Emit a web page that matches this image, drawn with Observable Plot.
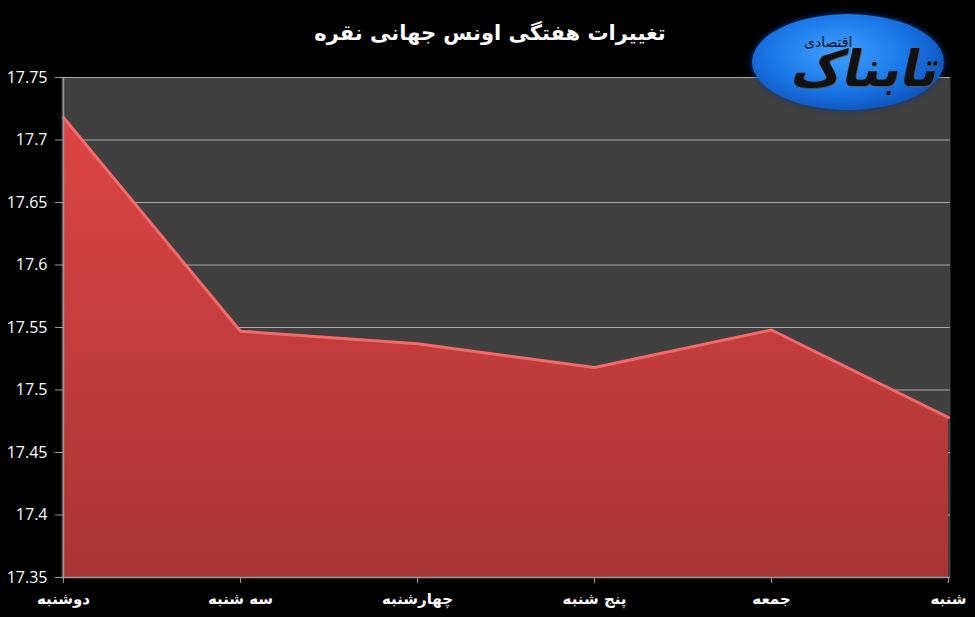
<!DOCTYPE html>
<html>
<head>
<meta charset="utf-8">
<script src="https://cdn.jsdelivr.net/npm/d3@7"></script>
<script src="https://cdn.jsdelivr.net/npm/@observablehq/plot@0.6"></script>
<style>
  html, body { margin: 0; padding: 0; background: #000; }
  #wrap { position: relative; width: 975px; height: 617px; overflow: hidden; background: #000; }
  #title { height: 50px; text-align: center; color: #fff; font: bold 21px "DejaVu Sans", sans-serif; line-height: 66px; padding-left: 5px; direction: rtl; }
  #logo { position: absolute; left: 752px; top: 14px; width: 192px; height: 96px; }
  #logo .ell { position: absolute; inset: 0; border-radius: 50%;
    background: radial-gradient(ellipse at 45% 40%, #3fa0ff 0%, #1b78e8 45%, #0b4fb8 80%, #06307a 100%);
    box-shadow: 0 0 6px #0a3a8a; }
  #logo .big { position: absolute; right: 4px; top: 26px; font: bold 50px "DejaVu Sans", serif; color: #111; direction: rtl; transform: skewX(-12deg); text-shadow: 1px 1px 0 #555; letter-spacing: -2px; }
  #logo .small { position: absolute; left: 52px; top: 20px; font: 14px "DejaVu Sans", serif; color: #111; direction: rtl; }
</style>
</head>
<body>
<div id="wrap">
  <div id="title">تغییرات هفتگی اونس جهانی نقره</div>
  <div id="chart"></div>
  <div id="logo"><div class="ell"></div><div class="big">تابناک</div><div class="small">اقتصادی</div></div>
</div>
<script>
const days = ["دوشنبه", "سه شنبه", "چهارشنبه", "پنج شنبه", "جمعه", "شنبه"];
const prices = [17.718, 17.547, 17.537, 17.518, 17.548, 17.478];
const yTicks = [17.35, 17.4, 17.45, 17.5, 17.55, 17.6, 17.65, 17.7, 17.75];

const data = days.map((d, i) => ({day: d, value: prices[i]}));

const defs = () => {
  const g = d3.create("svg:defs");
  const lg = g.append("linearGradient").attr("id", "redGrad").attr("x1", 0).attr("y1", 0).attr("x2", 0).attr("y2", 1);
  lg.append("stop").attr("offset", "0%").attr("stop-color", "#dd4545");
  lg.append("stop").attr("offset", "100%").attr("stop-color", "#a83434");
  return g.node();
};

const chart = Plot.plot({
  width: 975,
  height: 567,
  marginTop: 27,
  marginBottom: 40,
  marginLeft: 61,
  marginRight: 25,
  style: { background: "#000", color: "#fff", overflow: "visible" },
  x: { type: "point", domain: days, padding: 0, label: null },
  y: { domain: [17.35, 17.75], ticks: yTicks, label: null, tickFormat: d => String(+d.toFixed(2)) },
  marks: [
    defs,
    Plot.frame({ fill: "#404040", stroke: null }),
    Plot.ruleY(yTicks.slice(1), { stroke: "#a8a8a8", strokeWidth: 1 }),
    Plot.areaY(data, { x: "day", y1: 17.35, y2: "value", fill: "url(#redGrad)" }),
    Plot.lineY(data, { x: "day", y: "value", stroke: "#f26a6a", strokeWidth: 3, strokeLinejoin: "round" }),
    Plot.ruleX([days[0]], { stroke: "#9a9a9a", strokeWidth: 1.5 }),
    Plot.ruleY([17.35], { stroke: "#9a9a9a", strokeWidth: 1.5 }),
    Plot.axisY({ ticks: yTicks, tickSize: 6, tickPadding: 8, stroke: "#9a9a9a", fill: "#fff",
      fontSize: 16, fontFamily: "Open Sans, sans-serif", tickFormat: d => String(+d.toFixed(2)), label: null }),
    Plot.axisX({ tickSize: 6, tickPadding: 10, stroke: "#9a9a9a", fill: "#fff",
      fontSize: 15, fontWeight: "bold", fontFamily: "DejaVu Sans, sans-serif", label: null })
  ]
});
document.getElementById("chart").appendChild(chart);
</script>
</body>
</html>
